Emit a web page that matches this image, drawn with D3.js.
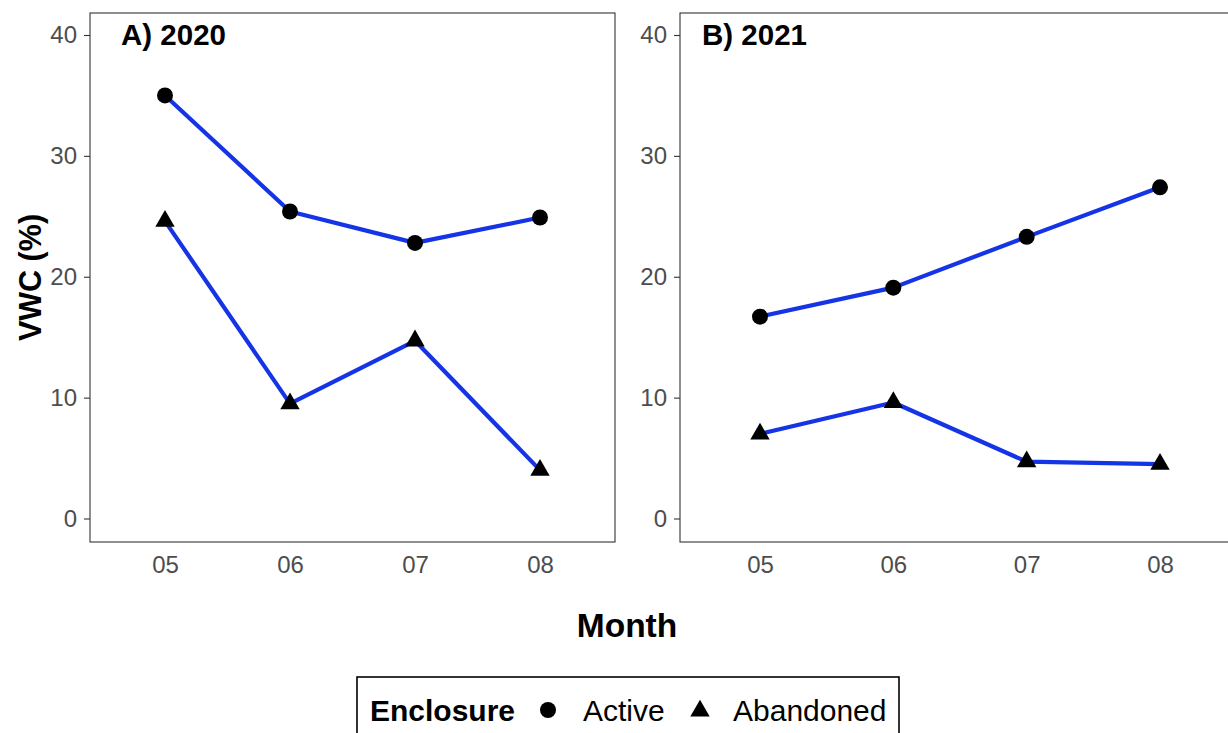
<!DOCTYPE html>
<html>
<head>
<meta charset="utf-8">
<script src="https://cdn.jsdelivr.net/npm/d3@7"></script>
<style>
  html, body { margin: 0; padding: 0; background: #fff; }
  svg { display: block; font-family: "Liberation Sans", Arial, Helvetica, sans-serif; }
</style>
</head>
<body>
<svg id="chart" width="1228" height="733"></svg>
<script>
// Soil volumetric water content by month, two seasons
const months = ["05", "06", "07", "08"];
const yTicks = [0, 10, 20, 30, 40];

const active2020 = [35.0, 25.4, 22.8, 24.9];
const abandoned2020 = [24.6, 9.5, 14.7, 4.0];
const active2021 = [16.7, 19.1, 23.3, 27.4];
const abandoned2021 = [7.0, 9.6, 4.7, 4.5];

const panelTitles = ["A) 2020", "B) 2021"];
const seriesNames = ["Active", "Abandoned"];

const panels = [
  { title: panelTitles[0], left: 90, right: 615, titleX: 121, series: [active2020, abandoned2020] },
  { title: panelTitles[1], left: 680, right: 1240, titleX: 702, series: [active2021, abandoned2021] }
];

const panelTop = 13, panelBottom = 542;
const lineColor = "#1434e6";
const tickColor = "#4d4d4d";
const frameColor = "#333333";

const svg = d3.select("#chart");

const y = d3.scaleLinear().domain([0, 40]).range([518.5, 35]);

const circleSym = d3.symbol().type(d3.symbolCircle).size(Math.PI * 8 * 8);
const triSize = 7.2;
// filled triangle with its centroid on the data point
function triPath(s) {
  const r = 1.555 * s, xc = 1.347 * s, yc = 0.778 * s;
  return `M0,${-r}L${xc},${yc}L${-xc},${yc}Z`;
}

panels.forEach(p => {
  const x = d3.scalePoint().domain(months).range([p.left, p.right]).padding(0.6);
  const g = svg.append("g");

  // y axis
  const yAxis = g.append("g")
    .attr("transform", `translate(${p.left},0)`)
    .call(d3.axisLeft(y).tickValues(yTicks).tickSize(6).tickPadding(7));
  // x axis
  const xAxis = g.append("g")
    .attr("transform", `translate(0,${panelBottom})`)
    .call(d3.axisBottom(x).tickSize(0).tickPadding(14));

  [yAxis, xAxis].forEach(ax => {
    ax.select(".domain").remove();
    ax.selectAll(".tick line").attr("stroke", frameColor).attr("stroke-width", 1.1);
    ax.selectAll(".tick text")
      .attr("fill", tickColor)
      .style("font-size", "24px")
      .style("font-family", "Liberation Sans, Arial, sans-serif");
  });
  xAxis.selectAll(".tick text").attr("dy", "0.71em");

  // panel frame
  g.append("rect")
    .attr("x", p.left).attr("y", panelTop)
    .attr("width", p.right - p.left).attr("height", panelBottom - panelTop)
    .attr("fill", "none").attr("stroke", frameColor).attr("stroke-width", 1.1);

  const line = d3.line().x((d, i) => x(months[i])).y(d => y(d));

  p.series.forEach(vals => {
    g.append("path")
      .datum(vals)
      .attr("d", line)
      .attr("fill", "none")
      .attr("stroke", lineColor)
      .attr("stroke-width", 4.2)
      .attr("stroke-linejoin", "round");
  });

  p.series.forEach((vals, si) => {
    g.selectAll(null)
      .data(vals)
      .join("path")
      .attr("transform", (d, i) => `translate(${x(months[i])},${y(d)})`)
      .attr("d", si === 0 ? circleSym() : triPath(triSize))
      .attr("fill", "#000");
  });

  g.append("text")
    .attr("x", p.titleX).attr("y", 45)
    .attr("font-weight", "bold")
    .attr("font-size", 29.5)
    .attr("fill", "#000")
    .text(p.title);
});

// axis titles
svg.append("text")
  .attr("x", 627).attr("y", 637)
  .attr("text-anchor", "middle")
  .attr("font-weight", "bold").attr("font-size", 33.5)
  .text("Month");

svg.append("text")
  .attr("transform", `translate(41,${(panelTop + panelBottom) / 2}) rotate(-90)`)
  .attr("text-anchor", "middle")
  .attr("font-weight", "bold").attr("font-size", 30.5)
  .text("VWC (%)");

// legend
const leg = svg.append("g");
leg.append("rect")
  .attr("x", 357).attr("y", 677)
  .attr("width", 542).attr("height", 80)
  .attr("fill", "#fff").attr("stroke", "#000").attr("stroke-width", 1.6);
leg.append("text")
  .attr("x", 370).attr("y", 721)
  .attr("font-weight", "bold").attr("font-size", 30)
  .text("Enclosure");
leg.append("path")
  .attr("transform", "translate(548,710)")
  .attr("d", circleSym())
  .attr("fill", "#000");
leg.append("text")
  .attr("x", 583).attr("y", 721)
  .attr("font-size", 30)
  .text(seriesNames[0]);
leg.append("path")
  .attr("transform", "translate(700,711)")
  .attr("d", triPath(triSize))
  .attr("fill", "#000");
leg.append("text")
  .attr("x", 733).attr("y", 721)
  .attr("font-size", 30)
  .text(seriesNames[1]);
</script>
</body>
</html>
